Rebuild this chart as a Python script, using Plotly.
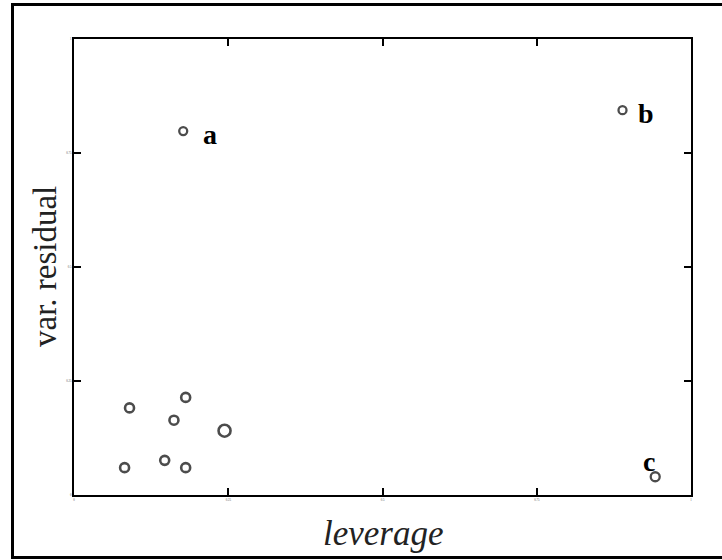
import plotly.graph_objects as go

# ---- data ----
leverage = [0.090, 0.181, 0.162, 0.244, 0.082, 0.147, 0.181]
var_residual = [0.191, 0.214, 0.164, 0.141, 0.060, 0.076, 0.060]

labeled_names = ["a", "b", "c"]
labeled_leverage = [0.177, 0.889, 0.942]
labeled_var_residual = [0.798, 0.844, 0.040]

x_tick_values = [0, 0.25, 0.5, 0.75, 1]
x_tick_labels = ["0", "0.25", "0.5", "0.75", "1"]
y_tick_values = [0, 0.25, 0.5, 0.75, 1]
y_tick_labels = ["0", "0.25", "0.5", "0.75", "1"]

x_title = "leverage"
y_title = "var. residual"

# ---- figure ----
W, H = 722, 560
L, R, T, B = 74, 31, 39, 65
pw, ph = W - L - R, H - T - B

SERIF = "Liberation Serif, Times New Roman, serif"

fig = go.Figure()

fig.add_trace(go.Scatter(
    x=leverage, y=var_residual, mode="markers",
    marker=dict(symbol="circle-open", size=[9, 9, 9, 12, 9, 9, 9],
                color="black", line=dict(width=2.6, color="black")),
    showlegend=False, hoverinfo="skip",
))
fig.add_trace(go.Scatter(
    x=labeled_leverage, y=labeled_var_residual, mode="markers",
    marker=dict(symbol="circle-open", size=[8, 8, 9],
                color="black", line=dict(width=2.3, color="black")),
    showlegend=False, hoverinfo="skip",
))

label_shifts = {"a": (27, -3), "b": (23, -3), "c": (-6, 15)}
for name, lx, ly in zip(labeled_names, labeled_leverage, labeled_var_residual):
    dx, dy = label_shifts[name]
    fig.add_annotation(x=lx, y=ly, text="<b>%s</b>" % name, showarrow=False,
                       xshift=dx, yshift=dy,
                       font=dict(family=SERIF, size=28, color="black"))

# axis titles as annotations for precise placement
fig.add_annotation(xref="paper", yref="paper", x=0.5, y=(495 - 512) / ph,
                   yanchor="top", xanchor="center", showarrow=False,
                   text="<i>%s</i>" % x_title,
                   font=dict(family=SERIF, size=35, color="#222"))
fig.add_annotation(xref="paper", yref="paper", x=(45 - L) / pw, y=0.5,
                   xanchor="center", yanchor="middle", showarrow=False,
                   textangle=-90, text=y_title,
                   font=dict(family=SERIF, size=33, color="#222"))


# outer frame (open on the right edge): top, left, bottom lines
def px_x(v):
    return (v - L) / pw


def px_y(v):
    return (H - B - v) / ph


frame = dict(color="black", width=3)
fig.add_shape(type="line", xref="paper", yref="paper",
              x0=px_x(11), x1=px_x(722), y0=px_y(4.5), y1=px_y(4.5), line=frame)
fig.add_shape(type="line", xref="paper", yref="paper",
              x0=px_x(12.5), x1=px_x(12.5), y0=px_y(3), y1=px_y(559), line=frame)
fig.add_shape(type="line", xref="paper", yref="paper",
              x0=px_x(11), x1=px_x(722), y0=px_y(557.5), y1=px_y(557.5), line=frame)

axis_common = dict(showline=True, linecolor="black", linewidth=2, mirror="ticks",
                   ticks="inside", ticklen=7, tickwidth=2, tickcolor="black",
                   showgrid=False, zeroline=False,
                   tickfont=dict(family=SERIF, size=3, color="#555"))

fig.update_xaxes(range=[0, 1], tickmode="array", tickvals=x_tick_values,
                 ticktext=x_tick_labels, **axis_common)
fig.update_yaxes(range=[0, 1], tickmode="array", tickvals=y_tick_values,
                 ticktext=y_tick_labels, **axis_common)

fig.update_layout(width=W, height=H,
                  margin=dict(l=L, r=R, t=T, b=B, autoexpand=False),
                  paper_bgcolor="white", plot_bgcolor="white",
                  showlegend=False)

fig.write_html("out.html",
               config={"displayModeBar": False},
               post_script="document.body.style.margin='0';"
                           "document.body.style.padding='0';"
                           "document.body.style.overflow='hidden';")
